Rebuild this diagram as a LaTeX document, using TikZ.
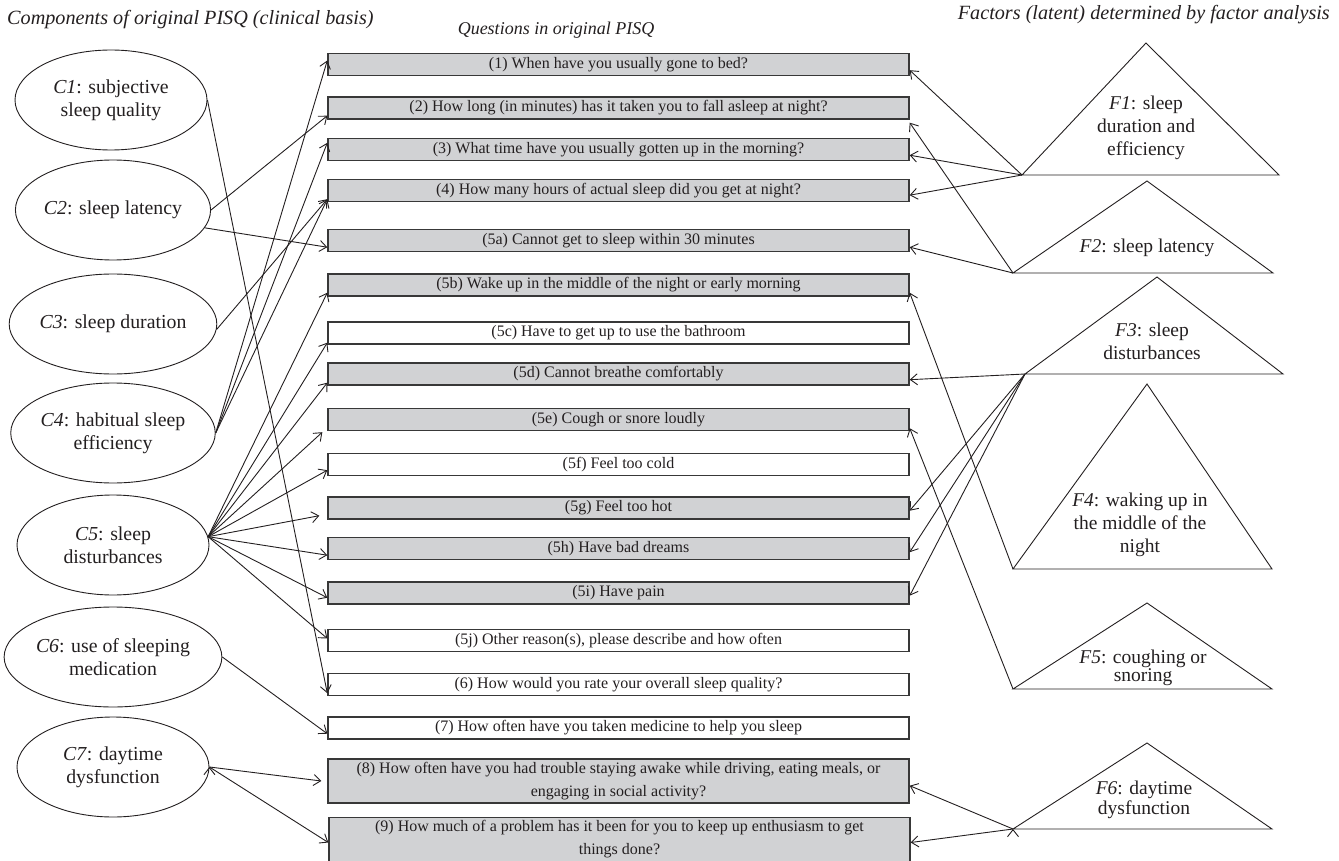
\documentclass[tikz,border=0pt]{standalone}
\usepackage{fontspec}
\setmainfont{Liberation Serif}
\usetikzlibrary{arrows.meta,shapes.geometric}
\definecolor{boxgray}{RGB}{209,210,212}
\definecolor{ink}{RGB}{35,31,32}
\tikzset{
    comp/.style =   {ellipse,
                    fill=white,
                    draw=ink,
                    text=ink,
                    line width=0.9pt,
                    minimum width=192pt,
                    minimum height=100pt,
                    inner sep=0pt,
                    align=center,
                    font=\fontsize{19.8}{23}\selectfont},
    quest/.style =  {rectangle,
                    fill=boxgray,
                    draw=black!78,
                    text=ink,
                    line width=1.4pt,
                    minimum width=581pt,
                    minimum height=22pt,
                    inner sep=0pt,
                    align=center,
                    font=\fontsize{16}{23}\selectfont},
    plain/.style =  {quest,
                    fill=white},
    tall/.style =   {minimum height=44pt},
    factor/.style = {draw=ink,
                    line width=0.9pt},
    flabel/.style = {align=center,
                    text=ink,
                    inner sep=0pt,
                    font=\fontsize{19.5}{23}\selectfont},
    heading/.style = {text=ink,
                    inner sep=0pt,
                    font=\fontsize{20.2}{23}\selectfont\itshape},
    link/.style =   {draw=ink,
                    line width=0.9pt,
                    -{Straight Barb[length=7pt,width=11pt]}}
}

\begin{document}
\begin{tikzpicture}[x=1pt,y=-1pt]
    \useasboundingbox (0,0) rectangle (1339,861);

    % headings
    \node[heading,anchor=west] (hcomp)  at (7,20)    {Components of original PISQ (clinical basis)};
    \node[heading,font=\fontsize{18}{21}\selectfont\itshape] (hquest) at (556,30) {Questions in original PISQ};
    \node[heading,anchor=east] (hfact)  at (1330,15) {Factors (latent) determined by factor analysis};

    % components
    \node[comp] (C1) at (111,100) {\textit{C1}: subjective\\sleep quality};
    \node[comp] (C2) at (113,210) {\textit{C2}: sleep latency};
    \node[comp] (C3) at (113,324) {\textit{C3}: sleep duration};
    \node[comp] (C4) at (113,433) {\textit{C4}: habitual sleep\\efficiency};
    \node[comp] (C5) at (113,545) {\textit{C5}: sleep\\disturbances};
    \node[comp] (C6) at (113,657) {\textit{C6}: use of sleeping\\medication};
    \node[comp] (C7) at (113,767) {\textit{C7}: daytime\\dysfunction};

    % questions
    \node[quest] (q1)  at (618.5,64.5)  {(1) When have you usually gone to bed?};
    \node[quest] (q2)  at (618.5,108)   {(2) How long (in minutes) has it taken you to fall asleep at night?};
    \node[quest] (q3)  at (618.5,149.5) {(3) What time have you usually gotten up in the morning?};
    \node[quest] (q4)  at (618.5,190.5) {(4) How many hours of actual sleep did you get at night?};
    \node[quest] (q5a) at (618.5,240.5) {(5a) Cannot get to sleep within 30 minutes};
    \node[quest] (q5b) at (618.5,285)   {(5b) Wake up in the middle of the night or early morning};
    \node[plain] (q5c) at (618.5,333)   {(5c) Have to get up to use the bathroom};
    \node[quest] (q5d) at (618.5,374)   {(5d) Cannot breathe comfortably};
    \node[quest] (q5e) at (618.5,419.5) {(5e) Cough or snore loudly};
    \node[plain] (q5f) at (618.5,464.5) {(5f) Feel too cold};
    \node[quest] (q5g) at (618.5,508)   {(5g) Feel too hot};
    \node[quest] (q5h) at (618.5,548.5) {(5h) Have bad dreams};
    \node[quest] (q5i) at (618.5,593)   {(5i) Have pain};
    \node[plain] (q5j) at (618.5,640.5) {(5j) Other reason(s), please describe and how often};
    \node[plain] (q6)  at (618.5,684.5) {(6) How would you rate your overall sleep quality?};
    \node[plain] (q7)  at (618.5,728)   {(7) How often have you taken medicine to help you sleep};
    \node[quest,tall] (q8) at (618.5,781) {(8) How often have you had trouble staying awake while driving, eating meals, or\\engaging in social activity?};
    \node[quest,tall] (q9) at (619.5,839.5) {(9) How much of a problem has it been for you to keep up enthusiasm to get\\things done?};

    % factors
    \coordinate (F1l) at (1022,175);
    \coordinate (F2l) at (1013,273);
    \coordinate (F3l) at (1025,374);
    \coordinate (F4l) at (1013,569);
    \coordinate (F5l) at (1013,689);
    \coordinate (F6l) at (1013,829);
    \draw[factor] (F1l) -- (1146,43)  -- (1279,175) -- cycle;
    \draw[factor] (F2l) -- (1147,181) -- (1273,273) -- cycle;
    \draw[factor] (F3l) -- (1157,277) -- (1283,374) -- cycle;
    \draw[factor] (F4l) -- (1147,384) -- (1272,569) -- cycle;
    \draw[factor] (F5l) -- (1147,603) -- (1272,689) -- cycle;
    \draw[factor] (F6l) -- (1147,743) -- (1272,829) -- cycle;
    \node[flabel] (F1) at (1146,128) {\textit{F1}: sleep\\duration and\\efficiency};
    \node[flabel] (F2) at (1147,248) {\textit{F2}: sleep latency};
    \node[flabel] (F3) at (1152,341) {\textit{F3}: sleep\\disturbances};
    \node[flabel] (F4) at (1140,525) {\textit{F4}: waking up in\\the middle of the\\night};
    \node[flabel,font=\fontsize{19.5}{18}\selectfont] (F5) at (1143,668) {\textit{F5}: coughing or\\snoring};
    \node[flabel,font=\fontsize{19.5}{20}\selectfont] (F6) at (1144,800) {\textit{F6}: daytime\\dysfunction};

    % components to questions
    \path[link] (C1.east) edge ([yshift=3pt]q6.south west)
                (C2.east) edge ([yshift=4pt]q2.south west)
                (C2.-11)  edge ([yshift=5pt]q5a.south west)
                (C3.-3)   edge ([yshift=3pt]q4.south west)
                (C4.east) edge ([yshift=4pt]q1.west)
                          edge ([yshift=-5pt]q3.north west)
                          edge ([yshift=3pt]q4.south west)
                (C5.5)    edge ([yshift=4pt]q5b.south west)
                          edge ([yshift=2pt]q5c.south west)
                          edge ([yshift=3pt]q5d.south west)
                          edge ([xshift=-5pt,yshift=-1pt]q5e.south west)
                          edge ([yshift=6pt]q5f.south west)
                          edge ([xshift=-8pt,yshift=4pt]q5g.south west)
                          edge ([yshift=5pt]q5h.south west)
                          edge ([yshift=7pt]q5i.south west)
                          edge ([yshift=2pt]q5j.west)
                (C6.east) edge ([yshift=6pt]q7.south west)
                (C7.east) edge ([xshift=-6pt]q8.west)
                          edge ([yshift=-3pt]q9.west);

    % factors to questions
    \path[link] (F1l) edge ([yshift=6pt]q1.south east)
                      edge ([yshift=6pt]q3.south east)
                      edge ([yshift=7pt]q4.south east)
                (F2l) edge ([yshift=-3pt]q2.south east)
                      edge ([yshift=5pt]q5a.south east)
                (F3l) edge ([yshift=6pt]q5d.south east)
                      edge ([yshift=9pt]q5g.south east)
                      edge ([yshift=8pt]q5h.south east)
                      edge ([yshift=9pt]q5i.south east)
                (F4l) edge ([yshift=4pt]q5b.south east)
                (F5l) edge ([yshift=3pt]q5e.south east)
                (F6l) edge ([yshift=18pt]q8.south east)
                      edge ([yshift=-3pt]q9.east);
\end{tikzpicture}
\end{document}
